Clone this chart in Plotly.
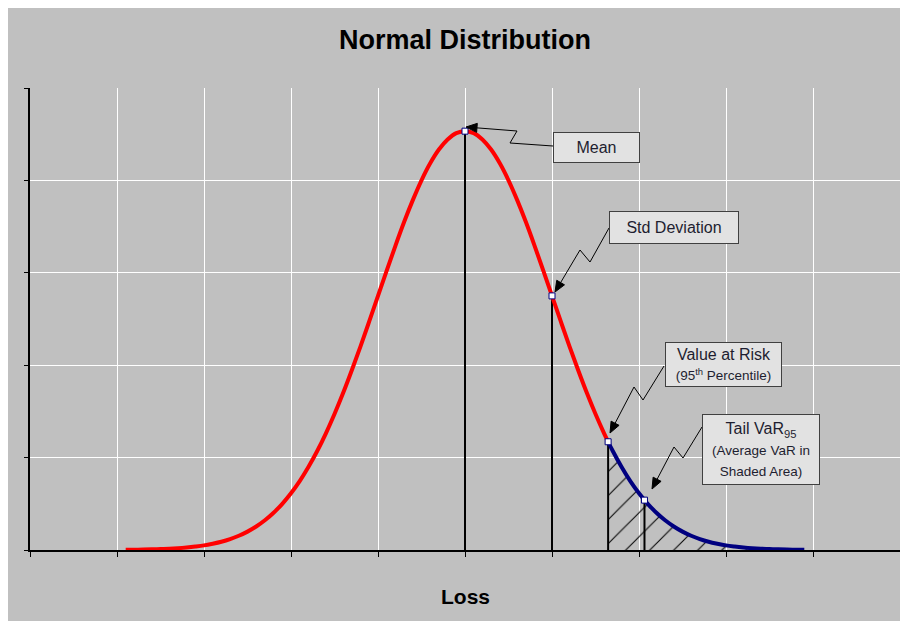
import math
import plotly.graph_objects as go

# ---------------- data ----------------
loss = [-3.9, -3.8, -3.7, -3.6, -3.5, -3.4, -3.3, -3.2, -3.1, -3.0,
        -2.9, -2.8, -2.7, -2.6, -2.5, -2.4, -2.3, -2.2, -2.1, -2.0,
        -1.9, -1.8, -1.7, -1.6, -1.5, -1.4, -1.3, -1.2, -1.1, -1.0,
        -0.9, -0.8, -0.7, -0.6, -0.5, -0.4, -0.3, -0.2, -0.1, 0.0,
        0.1, 0.2, 0.3, 0.4, 0.5, 0.6, 0.7, 0.8, 0.9, 1.0,
        1.1, 1.2, 1.3, 1.4, 1.5, 1.6, 1.645, 1.7, 1.8, 1.9, 2.0,
        2.1, 2.2, 2.3, 2.4, 2.5, 2.6, 2.7, 2.8, 2.9, 3.0,
        3.1, 3.2, 3.3, 3.4, 3.5, 3.6, 3.7, 3.8, 3.9]
density = [0.0002, 0.0003, 0.0004, 0.0006, 0.0009, 0.0012, 0.0017, 0.0024, 0.0033, 0.0044,
           0.0060, 0.0079, 0.0104, 0.0136, 0.0175, 0.0224, 0.0283, 0.0355, 0.0440, 0.0540,
           0.0656, 0.0790, 0.0940, 0.1109, 0.1295, 0.1497, 0.1714, 0.1942, 0.2179, 0.2420,
           0.2661, 0.2897, 0.3123, 0.3332, 0.3521, 0.3683, 0.3814, 0.3910, 0.3970, 0.3989,
           0.3970, 0.3910, 0.3814, 0.3683, 0.3521, 0.3332, 0.3123, 0.2897, 0.2661, 0.2420,
           0.2179, 0.1942, 0.1714, 0.1497, 0.1295, 0.1109, 0.1031, 0.0940, 0.0790, 0.0656, 0.0540,
           0.0440, 0.0355, 0.0283, 0.0224, 0.0175, 0.0136, 0.0104, 0.0079, 0.0060, 0.0044,
           0.0033, 0.0024, 0.0017, 0.0012, 0.0009, 0.0006, 0.0004, 0.0003, 0.0002]

marker_names = ["Mean", "Std Deviation", "Value at Risk", "Tail VaR"]
marker_x = [0.0, 1.0, 1.645, 2.063]
marker_y = [0.3989, 0.2420, 0.1031, 0.0475]
var_level = 1.645

x_ticks = [-5, -4, -3, -2, -1, 0, 1, 2, 3, 4, 5]
y_ticks = [0, 0.088, 0.176, 0.264, 0.352, 0.44]

# ---------------- layout geometry ----------------
# the page body adds an 8px offset; geometry below is in page pixels
OFF = 8
W, H = 908 - OFF, 621 - OFF
PL, PT, PW, PH = 30, 88, 870, 462          # plot area in page px
L, T = PL - OFF, PT - OFF
R = W - (L + PW)
B = H - (T + PH)
XR = [-5, 5]
YR = [0, 0.44]


def dx(px):
    return XR[0] + (px - PL) / PW * (XR[1] - XR[0])


def dy(py):
    return YR[0] + (PT + PH - py) / PH * (YR[1] - YR[0])


def paper_y(py):
    return (PT + PH - py) / PH


FONT = "Arial, Liberation Sans, sans-serif"

fig = go.Figure()

# hatched tail area
tail_x = [x for x in loss if x >= var_level]
tail_y = [d for x, d in zip(loss, density) if x >= var_level]
fig.add_trace(go.Scatter(
    x=tail_x, y=tail_y, mode="lines", line=dict(width=0, color="rgba(0,0,0,0)"),
    fill="tozeroy", fillcolor="rgba(0,0,0,0)",
    fillpattern=dict(shape="/", fgcolor="black", bgcolor="rgba(0,0,0,0)",
                     size=17, solidity=0.06, fgopacity=1),
    hoverinfo="skip", showlegend=False))

# vertical lines
for mx, my in zip(marker_x, marker_y):
    fig.add_trace(go.Scatter(x=[mx, mx], y=[0, my], mode="lines",
                             line=dict(color="black", width=2),
                             hoverinfo="skip", showlegend=False))

# red part of curve
red_x = [x for x in loss if x <= var_level]
red_y = [d for x, d in zip(loss, density) if x <= var_level]
fig.add_trace(go.Scatter(x=red_x, y=red_y, mode="lines",
                         line=dict(color="#ff0000", width=4, shape="spline"),
                         showlegend=False))
# blue tail of curve
fig.add_trace(go.Scatter(x=tail_x, y=tail_y, mode="lines",
                         line=dict(color="#000080", width=4, shape="spline"),
                         showlegend=False))

# markers
fig.add_trace(go.Scatter(x=marker_x, y=marker_y, mode="markers", text=marker_names,
                         marker=dict(symbol="square", size=6, color="white",
                                     line=dict(color="#000080", width=1)),
                         showlegend=False))

shapes = []
annotations = []

callouts = [
    dict(c=(596.5, 147.5), w=87, h=31,
         zig=[(553, 146), (510, 143), (517, 131)], tip=(466, 127),
         text="Mean"),
    dict(c=(674, 227.5), w=130, h=33,
         zig=[(609, 228), (590, 262), (580, 250)], tip=(555, 292),
         text="Std Deviation"),
    dict(c=(723.5, 364.5), w=117, h=45,
         zig=[(664, 366), (643, 400), (634, 387)], tip=(610, 433),
         text="Value at Risk<br><span style='font-size:13.5px'>(95<sup>th</sup> Percentile)</span>"),
    dict(c=(761, 449.5), w=118, h=71,
         zig=[(702, 427), (683, 458), (674, 447)], tip=(652, 489),
         text="Tail VaR<sub>95</sub><br><span style='font-size:13.5px'>(Average VaR in</span>"
              "<br><span style='font-size:13.5px'>Shaded Area)</span>"),
]

AH_LEN, AH_HALF = 11, 4.5
for c in callouts:
    lx, ly = c["zig"][-1]
    tx, ty = c["tip"]
    d = math.hypot(tx - lx, ty - ly)
    ux, uy = (tx - lx) / d, (ty - ly) / d
    bx, by = tx - AH_LEN * ux, ty - AH_LEN * uy
    nx, ny = -uy, ux
    pts = c["zig"] + [(bx, by)]
    path = "M " + " L ".join(f"{dx(px)},{dy(py)}" for px, py in pts)
    shapes.append(dict(type="path", xref="x", yref="y", path=path,
                       line=dict(color="black", width=1)))
    tri = [(tx, ty), (bx + AH_HALF * nx, by + AH_HALF * ny), (bx - AH_HALF * nx, by - AH_HALF * ny)]
    tpath = "M " + " L ".join(f"{dx(px)},{dy(py)}" for px, py in tri) + " Z"
    shapes.append(dict(type="path", xref="x", yref="y", path=tpath,
                       fillcolor="black", line=dict(color="black", width=1)))
    annotations.append(dict(x=dx(c["c"][0]), y=dy(c["c"][1]), xref="x", yref="y",
                            xanchor="center", yanchor="middle",
                            text=c["text"], showarrow=False,
                            width=c["w"] - 2, height=c["h"] - 2,
                            align="center", valign="middle",
                            bgcolor="#e2e2e2", bordercolor="#404040",
                            borderwidth=1, borderpad=0,
                            font=dict(family=FONT, size=16, color="#1e1e30")))

annotations.append(dict(text="<b>Loss</b>", xref="paper", yref="paper",
                        x=0.5, y=paper_y(596), xanchor="center", yanchor="middle",
                        showarrow=False, font=dict(family=FONT, size=21, color="black")))

fig.update_layout(
    width=W, height=H,
    margin=dict(l=L, r=R, t=T, b=B, pad=0),
    paper_bgcolor="#c0c0c0", plot_bgcolor="#c0c0c0",
    title=dict(text="<b>Normal Distribution</b>", x=0.5, xref="paper",
               y=1 - (40 - OFF) / H, yref="container", xanchor="center", yanchor="middle",
               font=dict(family=FONT, size=27, color="black")),
    shapes=shapes, annotations=annotations,
    showlegend=False,
)
fig.update_xaxes(range=XR, tickvals=x_ticks, showticklabels=False,
                 ticks="outside", ticklen=5, tickcolor="black", tickwidth=1,
                 showline=True, linecolor="black", linewidth=1.5,
                 showgrid=True, gridcolor="white", gridwidth=1, zeroline=False)
fig.update_yaxes(range=YR, tickvals=y_ticks, showticklabels=False,
                 ticks="outside", ticklen=4, tickcolor="black", tickwidth=1,
                 showline=True, linecolor="black", linewidth=1.5,
                 showgrid=True, gridcolor="white", gridwidth=1, zeroline=False)

fig.write_html("out.html")
